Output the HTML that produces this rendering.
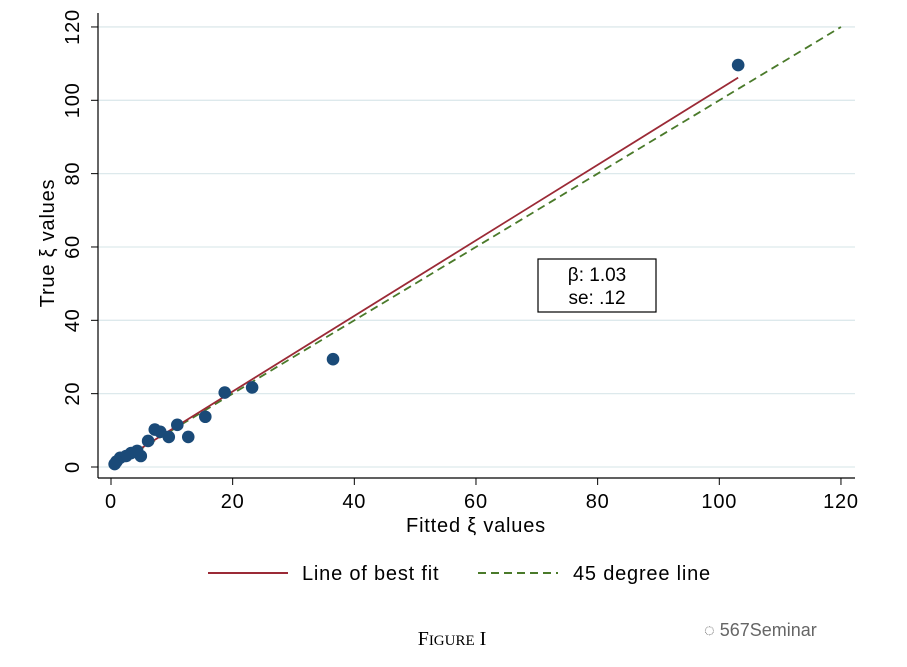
<!DOCTYPE html>
<html><head><meta charset="utf-8"><style>
html,body{margin:0;padding:0;background:#fff;}
svg{display:block;font-family:"Liberation Sans",sans-serif;}
</style></head><body>
<svg width="907" height="667" viewBox="0 0 907 667">
<g id="grid"></g>
<g id="axes"></g>
<g id="marks"></g>
<g>
<rect x="538" y="259" width="118" height="53" fill="#fff" stroke="#000" stroke-width="1.2"/>
<text x="597" y="281" font-size="19" text-anchor="middle">β: 1.03</text>
<text x="597" y="304" font-size="19" text-anchor="middle">se: .12</text>
</g>
<text x="476" y="532" font-size="20" letter-spacing="0.8" text-anchor="middle">Fitted ξ values</text>
<text transform="translate(54,243) rotate(-90)" font-size="20" letter-spacing="0.8" text-anchor="middle">True ξ values</text>
<g>
<g><line x1="208" y1="573" x2="288" y2="573" stroke="#9b2a36" stroke-width="2"/><text x="302" y="580" font-size="20" letter-spacing="0.8">Line of best fit</text></g>
<g><line x1="478" y1="573" x2="558" y2="573" stroke="#4a7a2a" stroke-width="2" stroke-dasharray="8,5"/><text x="573" y="580" font-size="20" letter-spacing="0.8">45 degree line</text></g>
</g>
<text x="452" y="645" font-size="20" text-anchor="middle" font-family="Liberation Serif,serif">F<tspan font-size="15">IGURE</tspan> I</text>
<text x="704" y="636" font-size="18" fill="#666">◌ 567Seminar</text>
</svg>
<script>
const xVals=[103.1,36.5,23.2,18.7,15.5,12.7,10.9,9.5,8.1,7.2,6.1,4.9,4.3,3.3,2.5,1.5,0.9,0.6];
const yVals=[109.6,29.4,21.7,20.3,13.7,8.2,11.5,8.2,9.6,10.2,7.1,3.0,4.4,3.8,3.0,2.5,1.5,0.8];
const ticks=[0,20,40,60,80,100,120];
const slope=1.03, intercept=0, fitMin=0.6, fitMax=103.1;
const NS="http://www.w3.org/2000/svg";
const X=v=>111+v*6.083, Y=v=>467-v*3.667;
function mk(t,a,p){const e=document.createElementNS(NS,t);for(const k in a)e.setAttribute(k,a[k]);p.appendChild(e);return e;}
const grid=document.getElementById('grid'),axes=document.getElementById('axes'),marks=document.getElementById('marks');
ticks.forEach(t=>{
 const g=mk('line',{x1:98,x2:855,y1:Y(t),y2:Y(t),stroke:'#dde9ec','stroke-width':1.3},grid);
 
 
 mk('line',{x1:91,x2:98,y1:Y(t),y2:Y(t),stroke:'#000'},axes);
 const ty=mk('text',{transform:`translate(79,${Y(t)}) rotate(-90)`,'font-size':20,'letter-spacing':0.8,'text-anchor':'middle'},axes);ty.textContent=t;
 
 
 mk('line',{x1:X(t),x2:X(t),y1:478,y2:485,stroke:'#000'},axes);
 const tx=mk('text',{x:X(t),y:508,'font-size':20,'letter-spacing':0.8,'text-anchor':'middle'},axes);tx.textContent=t;
 
 
});
const ya=mk('line',{x1:98,x2:98,y1:13,y2:478,stroke:'#000','stroke-width':1.2},axes);


const xa=mk('line',{x1:98,x2:855,y1:478,y2:478,stroke:'#000','stroke-width':1.2},axes);


const l45=mk('line',{x1:X(0.6),y1:Y(0.6),x2:X(120),y2:Y(120),stroke:'#4a7a2a','stroke-width':1.8,'stroke-dasharray':'8,5'},marks);


const lf=mk('line',{x1:X(fitMin),y1:Y(intercept+slope*fitMin),x2:X(fitMax),y2:Y(intercept+slope*fitMax),stroke:'#9b2a36','stroke-width':1.8},marks);


xVals.forEach((x,i)=>{
 const c=mk('circle',{cx:X(x),cy:Y(yVals[i]),r:6.3,fill:'#1a4a78'},marks);
 
 
});
</script>
</body></html>
